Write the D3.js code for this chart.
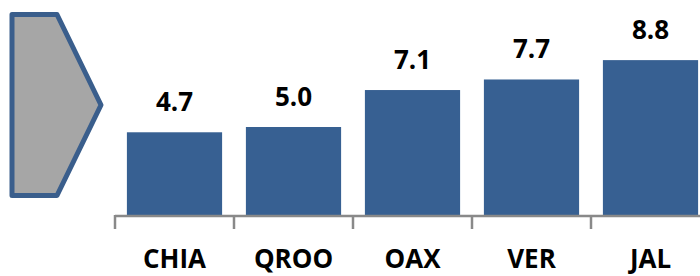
<!DOCTYPE html>
<html>
<head>
<meta charset="utf-8">
<script src="https://d3js.org/d3.v7.min.js"></script>
<style>
  html, body { margin: 0; padding: 0; background: #ffffff; }
  text { font-family: "Open Sans", "Noto Sans", sans-serif; font-weight: 700; fill: #000000; }
  .bar-label { font-size: 26px; }
  .cat-label { font-size: 26px; }
</style>
</head>
<body>
<div id="chart"></div>
<script>
  // data
  const states = ["CHIA", "QROO", "OAX", "VER", "JAL"];
  const values = [4.7, 5.0, 7.1, 7.7, 8.8];

  const width = 700, height = 276;
  const baseY = 215;

  const svg = d3.select("#chart")
    .append("svg")
    .attr("width", width)
    .attr("height", height);

  // arrow / pentagon marker on the left
  const arrow = [[12, 14.5], [57, 14.5], [101, 105], [57, 195.5], [12, 195.5]];
  svg.append("path")
    .attr("d", d3.line()(arrow) + "Z")
    .attr("fill", "#a6a6a6")
    .attr("stroke", "#3a5e8c")
    .attr("stroke-width", 5)
    .attr("stroke-linejoin", "round");

  const x = d3.scaleBand()
    .domain(states)
    .range([115, 710])
    .paddingInner(0.2)
    .paddingOuter(0.1);

  const y = d3.scaleLinear()
    .domain([0, 10])
    .range([baseY, 39]);

  // bars
  svg.selectAll("rect.bar")
    .data(states)
    .join("rect")
      .attr("class", "bar")
      .attr("x", d => x(d))
      .attr("width", x.bandwidth())
      .attr("y", (d, i) => y(values[i]))
      .attr("height", (d, i) => baseY - y(values[i]))
      .attr("fill", "#376092");

  // axis line + tick marks at band boundaries
  const step = x.step();
  const r0 = x.range()[0];
  const axis = svg.append("g").attr("stroke", "#898989").attr("stroke-width", 2.5);
  axis.append("line")
    .attr("x1", r0).attr("x2", width)
    .attr("y1", baseY + 1).attr("y2", baseY + 1);
  axis.selectAll("line.tick")
    .data(d3.range(states.length + 1))
    .join("line")
      .attr("class", "tick")
      .attr("x1", i => r0 + i * step)
      .attr("x2", i => r0 + i * step)
      .attr("y1", baseY)
      .attr("y2", baseY + 14);

  // value labels
  svg.selectAll("text.bar-label")
    .data(states)
    .join("text")
      .attr("class", "bar-label")
      .attr("x", d => x(d) + x.bandwidth() / 2)
      .attr("y", (d, i) => y(values[i]) - 21)
      .attr("text-anchor", "middle")
      .text((d, i) => d3.format(".1f")(values[i]));

  // category labels
  svg.selectAll("text.cat-label")
    .data(states)
    .join("text")
      .attr("class", "cat-label")
      .attr("x", d => x(d) + x.bandwidth() / 2)
      .attr("y", 268)
      .attr("text-anchor", "middle")
      .text(d => d);
</script>
</body>
</html>
